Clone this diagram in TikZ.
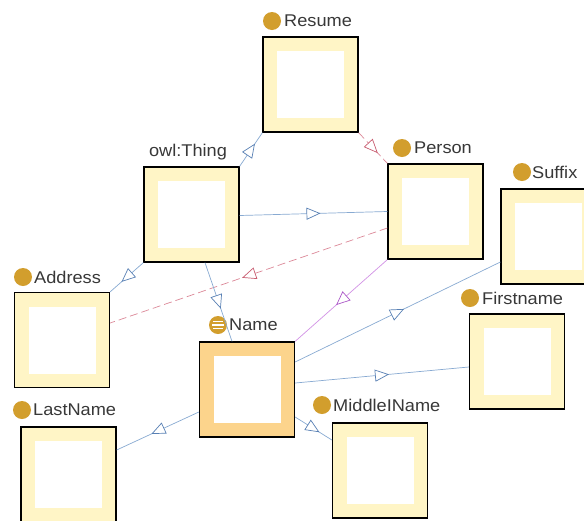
\documentclass[tikz,border=0pt]{standalone}
\usepackage{fontspec}
\setmainfont{Liberation Sans}[FakeStretch=1.07]
\usetikzlibrary{arrows.meta,decorations.markings}
\definecolor{band}{RGB}{255,245,198}
\definecolor{nameband}{RGB}{252,212,140}
\definecolor{gold}{RGB}{210,158,45}
\definecolor{eblue}{RGB}{136,170,210}
\definecolor{tblue}{RGB}{88,128,180}
\definecolor{ered}{RGB}{220,136,152}
\definecolor{tred}{RGB}{200,92,112}
\definecolor{emag}{RGB}{210,146,230}
\definecolor{tmag}{RGB}{172,88,200}
\tikzset{
  clsbox/.style={draw=black, line width=1.3pt, fill=band, minimum width=95pt, minimum height=95pt, inner sep=0pt,
    path picture={\fill[white] ([shift={(14pt,-14pt)}]path picture bounding box.north west) rectangle ([shift={(-14pt,14pt)}]path picture bounding box.south east);}},
  namebox/.style={clsbox, fill=nameband},
  dot/.style={circle, fill=gold, minimum size=18pt, inner sep=0pt},
  lbl/.style={font=\fontsize{17}{19}\selectfont, text=black!78, inner sep=0pt, anchor=west},
  rel/.style={line width=0.7pt, postaction={decorate, solid}},
  bluerel/.style={rel, draw=eblue, decoration={markings, mark=at position 0.5 with {\arrow[xshift=7pt]{Triangle[length=14pt,width=12pt,fill=white,color=tblue]}}}},
  redrel/.style={rel, draw=ered, dash pattern=on 8pt off 4pt, decoration={markings, mark=at position 0.5 with {\arrow[xshift=7pt]{Triangle[length=14pt,width=12pt,fill=white,color=tred]}}}},
  magrel/.style={rel, draw=emag, decoration={markings, mark=at position 0.5 with {\arrow[xshift=7pt]{Triangle[length=14pt,width=12pt,fill=white,color=tmag]}}}}
}
\begin{document}
\begin{tikzpicture}[x=1pt,y=-1pt]
\useasboundingbox (0,0) rectangle (584,520);
\clip (0,0) rectangle (584,520);
\fill[white] (0,0) rectangle (584,520);
% boxes
\node[clsbox] (resume) at (310.5,84.5) {};
\node[clsbox] (thing) at (191.5,214.5) {};
\node[clsbox] (person) at (435.5,211.5) {};
\node[clsbox] (suffix) at (548.5,236.5) {};
\node[clsbox] (first) at (517,361.5) {};
\node[clsbox] (middle) at (380,470.5) {};
\node[namebox] (name) at (247,389.5) {};
\node[clsbox] (address) at (62,340) {};
\node[clsbox] (last) at (68.5,474.5) {};
% labels
\node[dot] (resumeD) at (272,21) {};
\node[lbl] (resumeT) at (284,21) {Resume};
\node[lbl, anchor=center] (thingT) at (188,152) {owl:Thing};
\node[dot] (personD) at (402,148) {};
\node[lbl] (personT) at (414,148) {Person};
\node[dot] (suffixD) at (522,172) {};
\node[lbl] (suffixT) at (532,172) {Suffix};
\node[dot] (addressD) at (23,277) {};
\node[lbl] (addressT) at (34,277) {Address};
\node[dot] (firstD) at (470,298) {};
\node[lbl] (firstT) at (482,298) {Firstname};
\node[dot, path picture={\draw[white, line width=1.2pt] ([shift={(-6pt,0pt)}]path picture bounding box.center) -- ++(12pt,0pt) ([shift={(-5pt,3.5pt)}]path picture bounding box.center) -- ++(10pt,0pt) ([shift={(-5pt,-3.5pt)}]path picture bounding box.center) -- ++(10pt,0pt);}] (nameD) at (218,325) {};
\node[lbl] (nameT) at (229,325) {Name};
\node[dot] (lastD) at (22,410) {};
\node[lbl] (lastT) at (33,410) {LastName};
\node[dot] (middleD) at (322,405) {};
\node[lbl] (middleT) at (333,405) {MiddleIName};
% connectors
\draw[bluerel] (thing.north east) -- (resume.south west);
\draw[redrel] (resume.south east) -- (person.north west);
\draw[bluerel] ([yshift=-1pt]thing.east) -- (person.west);
\draw[redrel] ([yshift=-16.5pt]person.west) -- ([yshift=17pt]address.east);
\draw[bluerel] (thing.south west) -- (address.north east);
\draw[bluerel] ([xshift=13.5pt]thing.south) -- ([xshift=-15pt]name.north);
\draw[magrel] (person.south west) -- (name.north east);
\draw[bluerel] ([yshift=27.5pt]name.east) -- ([yshift=-25.5pt]suffix.west);
\draw[bluerel] ([yshift=6.5pt]name.east) -- ([yshift=-5.5pt]first.west);
\draw[bluerel] ([yshift=-22.5pt]name.west) -- ([yshift=24.5pt]last.east);
\draw[bluerel] ([yshift=-27.5pt]name.east) -- ([yshift=30.5pt]middle.west);
\end{tikzpicture}
\end{document}
